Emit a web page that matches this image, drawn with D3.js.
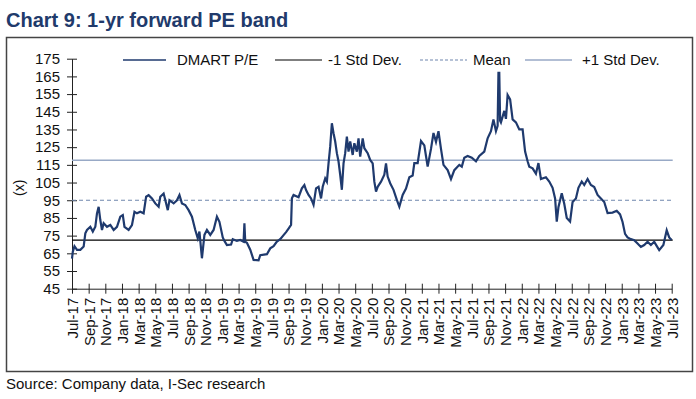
<!DOCTYPE html>
<html>
<head>
<meta charset="utf-8">
<script src="https://cdn.jsdelivr.net/npm/d3@7"></script>
<style>
  body { margin: 0; background: #fff; }
  svg { display: block; font-family: "Liberation Sans", Arial, sans-serif; }
</style>
</head>
<body>
<svg width="696" height="399"></svg>
<script>
// months counted from Jul-17 (0) to Jul-23 (72)
var months = [
  0.0, 0.1, 0.3, 0.6, 1.0, 1.4, 1.6, 1.8, 2.2, 2.5, 2.8, 3.0, 3.2, 3.4, 3.6, 3.8, 4.2, 4.6, 5.0, 5.4,
  5.8, 6.1, 6.3, 6.8, 7.2, 7.5, 7.8, 8.2, 8.6, 8.9, 9.2, 9.6, 10.0, 10.4, 10.6, 11.0, 11.2, 11.5, 11.7, 12.2,
  12.6, 12.9, 13.2, 13.6, 14.0, 14.4, 14.8, 15.1, 15.3, 15.6, 15.9, 16.2, 16.6, 17.0, 17.4, 17.7, 18.1, 18.3, 18.6, 19.1,
  19.3, 19.8, 20.2, 20.6, 20.7, 20.8, 21.0, 21.4, 21.8, 22.4, 22.6, 23.4, 23.8, 24.2, 24.6, 25.0, 25.4, 25.7, 26.0, 26.3,
  26.4, 26.6, 27.2, 27.6, 27.9, 28.1, 28.4, 28.7, 29.0, 29.3, 29.6, 29.9, 30.1, 30.4, 30.6, 30.8, 31.0, 31.2, 31.4, 31.6,
  31.8, 32.0, 32.2, 32.4, 32.6, 32.8, 33.0, 33.2, 33.4, 33.7, 33.9, 34.2, 34.4, 34.6, 34.9, 35.1, 35.5, 35.8, 36.1, 36.3,
  36.5, 36.7, 37.1, 37.5, 37.7, 37.9, 38.2, 38.6, 39.0, 39.3, 39.7, 40.1, 40.5, 40.9, 41.1, 41.5, 41.9, 42.3, 42.5, 42.7,
  43.1, 43.4, 43.7, 44.0, 44.3, 44.6, 45.1, 45.5, 45.9, 46.5, 46.8, 47.1, 47.5, 48.0, 48.5, 48.9, 49.5, 49.9, 50.3, 50.6,
  50.9, 51.1, 51.2, 51.3, 51.4, 51.5, 51.9, 52.1, 52.3, 52.6, 52.9, 53.3, 53.7, 54.1, 54.4, 54.7, 54.9, 55.3, 55.7, 56.0,
  56.3, 56.9, 57.3, 57.7, 58.0, 58.2, 58.4, 58.8, 59.1, 59.4, 59.8, 60.1, 60.5, 60.8, 61.2, 61.5, 61.9, 62.3, 62.7, 63.1,
  63.5, 63.9, 64.3, 64.9, 65.4, 65.8, 66.1, 66.4, 66.7, 67.1, 67.5, 67.9, 68.3, 68.7, 69.1, 69.5, 69.9, 70.5, 71.0, 71.4,
  71.7, 72.0
];
var pe = [
  62, 66, 69, 67, 67, 68.8, 76.3, 78.2, 80, 77.3, 80, 87.6, 91.3, 83.8, 78.2, 82, 80, 81, 78.2, 80,
  85.7, 86.6, 80, 78.2, 81, 88.5, 87.6, 88.5, 87.6, 97, 97.9, 96, 93.2, 91.3, 97, 98.8, 95.1, 89.4, 95, 93.2,
  95, 97.9, 93.2, 92.3, 89.4, 85.7, 78.2, 73.5, 77.3, 62.2, 75.4, 78.2, 75.4, 78.2, 85.7, 82.8, 74, 72, 69.7, 70,
  73, 72, 72.5, 71.5, 82, 71.5, 71, 67, 61.3, 61, 63.9, 64.5, 67.8, 69, 71.6, 73, 75.3, 77, 79, 81,
  96.1, 98, 96.7, 101.7, 103.6, 100.8, 98, 96, 92.4, 101.7, 102.6, 96, 102.6, 107.3, 105.5, 115.8, 125.3, 138.5, 132.9, 128.2,
  121.6, 116.9, 109.4, 100.9, 115.8, 121.6, 131, 122.5, 128.2, 120.6, 127.2, 122.5, 130, 119.7, 130, 124.4, 121.6, 117.8, 115.8, 105.5,
  99.9, 102.6, 105.5, 109.4, 115.8, 108.4, 104.6, 100.9, 95.2, 91.4, 98, 101.6, 108, 109, 116, 116, 128.5, 126, 120, 114,
  124, 133, 128, 134, 124, 115, 112, 107, 112, 115, 114, 119, 120, 119, 117, 120, 122.5, 130, 134, 140.7,
  134, 137, 167, 167, 140, 139, 145.5, 141, 154.5, 152, 140.7, 139, 135, 135, 122.5, 117, 114, 113, 110, 116,
  107, 108, 105.6, 102, 96, 82.9, 91, 99, 93, 85, 83, 94, 96, 102, 105.6, 103.6, 107, 103.6, 102.5, 98,
  96, 94, 87.8, 88, 89, 87, 82.7, 76, 74, 73, 72.4, 70.5, 68.6, 69.7, 71.5, 69.7, 71.5, 66.8, 69.7, 78,
  74, 72.5
];
var bandNames = ["-1 Std Dev.", "Mean", "+1 Std Dev."];
var bandValues = [72.4, 95.0, 117.6];
var yTicks = [45, 55, 65, 75, 85, 95, 105, 115, 125, 135, 145, 155, 165, 175];
var xTickLabels = [
  "Jul-17", "Sep-17", "Nov-17", "Jan-18", "Mar-18", "May-18", "Jul-18", "Sep-18", "Nov-18",
  "Jan-19", "Mar-19", "May-19", "Jul-19", "Sep-19", "Nov-19", "Jan-20", "Mar-20", "May-20",
  "Jul-20", "Sep-20", "Nov-20", "Jan-21", "Mar-21", "May-21", "Jul-21", "Sep-21", "Nov-21",
  "Jan-22", "Mar-22", "May-22", "Jul-22", "Sep-22", "Nov-22", "Jan-23", "Mar-23", "May-23", "Jul-23"
];

var navy = "#1f3a6e";
var svg = d3.select("svg");

svg.append("text")
    .attr("x", 6).attr("y", 26.5)
    .style("font-size", "20px").style("font-weight", "bold")
    .attr("fill", "#213a6b")
    .text("Chart 9: 1-yr forward PE band");

// frame
svg.append("rect")
    .attr("x", 6.5).attr("y", 37.5).attr("width", 686).attr("height", 334)
    .attr("fill", "none").attr("stroke", "#444").attr("stroke-width", 1.5);

svg.append("text")
    .attr("x", 6).attr("y", 389)
    .style("font-size", "15px").attr("fill", "#111")
    .text("Source: Company data, I-Sec research");

var margin = {left: 72, top: 58.7, right: 671.7, bottom: 288.7};
var x = d3.scaleLinear().domain([0, 72]).range([margin.left, margin.right]);
var y = d3.scaleLinear().domain([45, 175]).range([margin.bottom, margin.top]);

// y axis
var yAxis = svg.append("g")
    .attr("transform", "translate(" + margin.left + ",0)")
    .call(d3.axisLeft(y).tickValues(yTicks).tickSize(5).tickSizeOuter(0).tickPadding(7));
yAxis.selectAll(".tick line").attr("x1", -5).attr("x2", 5);
yAxis.selectAll("line, path").attr("stroke", "#222");
yAxis.selectAll("text").style("font-size", "15px").attr("fill", "#111");

// x axis
var xAxis = svg.append("g")
    .attr("transform", "translate(0," + margin.bottom + ")")
    .call(d3.axisBottom(x).tickValues(d3.range(0, 73, 2)).tickSize(5).tickSizeOuter(0)
      .tickFormat(function(d, i) { return xTickLabels[i]; }));
xAxis.selectAll(".tick line").attr("y1", -5).attr("y2", 5);
xAxis.selectAll("line, path").attr("stroke", "#222");
xAxis.selectAll("text")
    .attr("transform", "rotate(-90)")
    .attr("x", -9).attr("y", 0).attr("dy", "0.36em")
    .attr("text-anchor", "end")
    .style("font-size", "15px").attr("fill", "#111");

svg.append("text")
    .attr("transform", "translate(24," + y(102) + ") rotate(-90)")
    .attr("text-anchor", "middle")
    .style("font-size", "14px").attr("fill", "#111")
    .text("(x)");

// band lines
var bandStyles = [
  {stroke: "#000", dash: null, width: 1.2},
  {stroke: "#6f86ad", dash: "4,3", width: 1.2},
  {stroke: "#98a9c6", dash: null, width: 1.4}
];
bandValues.forEach(function(v, i) {
  svg.append("line")
      .attr("x1", margin.left).attr("x2", margin.right + 1)
      .attr("y1", y(v)).attr("y2", y(v))
      .attr("stroke", bandStyles[i].stroke)
      .attr("stroke-width", bandStyles[i].width)
      .attr("stroke-dasharray", bandStyles[i].dash);
});

// P/E line
var line = d3.line()
    .x(function(d) { return x(d[0]); })
    .y(function(d) { return y(d[1]); });
svg.append("path")
    .datum(d3.zip(months, pe))
    .attr("d", line)
    .attr("fill", "none")
    .attr("stroke", navy)
    .attr("stroke-width", 2.2)
    .attr("stroke-linejoin", "miter");

// legend
var legend = [
  {name: "DMART P/E", x0: 123, x1: 166, tx: 177, stroke: navy, dash: null, w: 1.5},
  {name: bandNames[0], x0: 275, x1: 322, tx: 328, stroke: "#000", dash: null, w: 1.2},
  {name: bandNames[1], x0: 420, x1: 467, tx: 473, stroke: "#6f86ad", dash: "3,2", w: 1.2},
  {name: bandNames[2], x0: 525, x1: 572, tx: 582, stroke: "#98a9c6", dash: null, w: 1.4}
];
var lg = svg.append("g").selectAll("g").data(legend).enter().append("g");
lg.append("line")
    .attr("x1", function(d) { return d.x0; }).attr("x2", function(d) { return d.x1; })
    .attr("y1", 60).attr("y2", 60)
    .attr("stroke", function(d) { return d.stroke; })
    .attr("stroke-width", function(d) { return d.w; })
    .attr("stroke-dasharray", function(d) { return d.dash; });
lg.append("text")
    .attr("x", function(d) { return d.tx; }).attr("y", 60).attr("dy", "0.36em")
    .style("font-size", "15px").attr("fill", "#111")
    .text(function(d) { return d.name; });
</script>
</body>
</html>
